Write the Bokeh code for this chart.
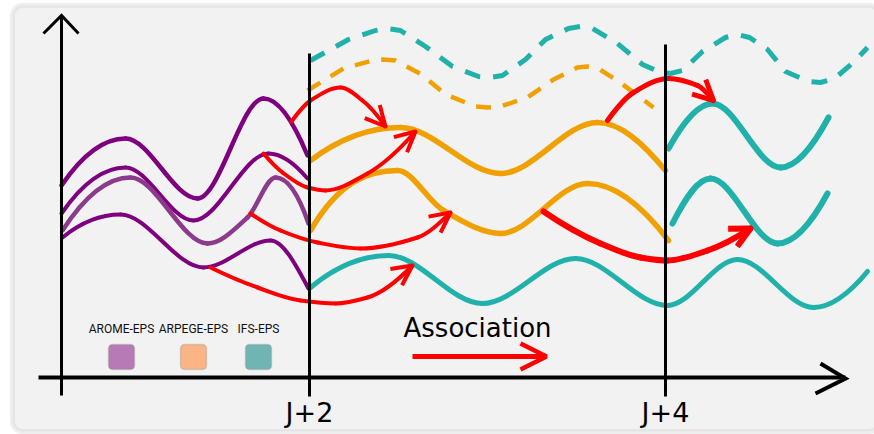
from bokeh.plotting import figure
from bokeh.models import Range1d, Arrow, OpenHead, BoxAnnotation, Label
from bokeh.embed import file_html
from bokeh.resources import INLINE

# ---------------- data (pixel-like units) ----------------
# AROME-EPS members (purple), from t0 to J+2 : start, peaks/troughs, end
arome1_x = [61, 125, 197, 263, 307]
arome1_y = [185, 138, 198, 98, 155]
arome2_x = [61, 125, 193, 268, 307]
arome2_y = [213, 167, 220, 153, 178]
arome3_x = [62, 130, 207, 247, 275, 308]
arome3_y = [230, 177, 243, 217, 177, 223]
arome4_x = [62, 120, 203, 270, 308]
arome4_y = [237, 214, 267, 240, 288]

# ARPEGE-EPS members (orange), J+2 to J+4
arpege1_x = [310, 400, 500, 597, 665]
arpege1_y = [160, 127, 173, 122, 170]
arpege2_x = [310, 397, 443, 500, 587, 668]
arpege2_y = [230, 170, 210, 233, 183, 240]
arpege_dash_x = [307, 343, 372, 383, 395, 421, 445, 475, 487, 500, 527, 553, 577, 587, 598, 621, 653]
arpege_dash_y = [90, 68, 60, 59, 60, 74, 94, 106, 107, 106, 97, 79, 67, 66, 68, 83, 107]

# IFS-EPS members (teal)
ifs1_x = [310, 388, 482, 575, 667, 737, 813, 867]
ifs1_y = [287, 255, 303, 258, 305, 259, 307, 271]
ifs2_x = [668, 712, 780, 828]
ifs2_y = [148, 103, 167, 117]
ifs3_x = [672, 710, 777, 827]
ifs3_y = [223, 178, 243, 193]
ifs_dash_x = [310, 348, 375, 387, 400, 425, 452, 478, 490, 502, 525, 545, 568, 580, 592,
              617, 642, 660, 670, 682, 702, 725, 737, 749, 767, 785, 808, 820, 834, 853, 867]
ifs_dash_y = [60, 39, 30, 28, 30, 46, 66, 76, 77, 75, 59, 39, 28, 26, 28,
              43, 64, 72, 73, 70, 51, 37, 34, 37, 49, 71, 81, 82, 78, 62, 47]

# association arrows (red)
assoc1_x = [291, 310, 340, 362, 385]
assoc1_y = [121, 100, 87, 100, 126]
assoc2_x = [263, 282, 307, 325, 367, 415]
assoc2_y = [153, 172, 187, 190, 173, 131]
assoc3_x = [250, 280, 317, 360, 417, 450]
assoc3_y = [213, 230, 242, 248, 237, 212]
assoc4_x = [210, 257, 300, 335, 367, 412]
assoc4_y = [267, 287, 300, 303, 297, 265]
assoc5_x = [543, 600, 640, 667, 707, 750]
assoc5_y = [211, 243, 257, 260, 250, 228]
assoc6_x = [607, 633, 668, 697, 713]
assoc6_y = [120, 92, 78, 85, 100]

legend_labels = ["AROME-EPS", "ARPEGE-EPS", "IFS-EPS"]
tick_labels = ["J+2", "J+4"]
tick_pos = [309, 665]

PURPLE = "#7e007e"
PURPLE_L = "#8c3a8c"
ORANGE = "#f0a000"
TEAL = "#20b2aa"
RED = "#ff0000"


def _end_slope(h0, h1, d0, d1):
    m = ((2 * h0 + h1) * d0 - h0 * d1) / (h0 + h1)
    if m * d0 <= 0:
        return 0.0
    if d0 * d1 < 0 and abs(m) > 3 * abs(d0):
        return 3 * d0
    return m


def smooth(xs, ys):
    """Cubic Hermite (PCHIP-style) control points for Bokeh's bezier glyph through the read points."""
    n = len(xs)
    h = [xs[i + 1] - xs[i] for i in range(n - 1)]
    d = [(ys[i + 1] - ys[i]) / h[i] for i in range(n - 1)]
    m = [0.0] * n
    if n > 2:
        m[0] = _end_slope(h[0], h[1], d[0], d[1])
        m[-1] = _end_slope(h[-1], h[-2], d[-1], d[-2])
    else:
        m[0] = m[-1] = d[0]
    for i in range(1, n - 1):
        if d[i - 1] * d[i] <= 0:
            m[i] = 0.0
        else:
            w1 = 2 * h[i] + h[i - 1]
            w2 = h[i] + 2 * h[i - 1]
            m[i] = (w1 + w2) / (w1 / d[i - 1] + w2 / d[i])
    out = {k: [] for k in ("x0", "y0", "x1", "y1", "cx0", "cy0", "cx1", "cy1")}
    for i in range(n - 1):
        out["x0"].append(xs[i]); out["y0"].append(ys[i])
        out["x1"].append(xs[i + 1]); out["y1"].append(ys[i + 1])
        out["cx0"].append(xs[i] + h[i] / 3.0)
        out["cy0"].append(ys[i] + m[i] * h[i] / 3.0)
        out["cx1"].append(xs[i + 1] - h[i] / 3.0)
        out["cy1"].append(ys[i + 1] - m[i + 1] * h[i] / 3.0)
    return out


p = figure(width=874, height=434, x_range=Range1d(0, 874), y_range=Range1d(434, 0),
           output_backend="svg", toolbar_location=None, min_border=0,
           x_axis_type=None, y_axis_type=None)
p.grid.visible = False
p.outline_line_color = None
p.background_fill_color = "white"
p.border_fill_color = "white"

# panel
p.add_layout(BoxAnnotation(left=12, right=879, top=5, bottom=431, fill_color="#f2f2f2", fill_alpha=1,
                           line_color="#c6c6c6", line_width=5, border_radius=10, level="underlay"))


def curve(xs, ys, color, width):
    p.bezier(**smooth(xs, ys), line_color=color, line_width=width, line_cap="round")


# dashed forecasts
p.line(ifs_dash_x, ifs_dash_y, line_color=TEAL, line_width=5, line_dash="16 13")
p.line(arpege_dash_x, arpege_dash_y, line_color=ORANGE, line_width=4.5, line_dash="15 12")

# members
curve(arome1_x, arome1_y, PURPLE, 4.5)
curve(arome2_x, arome2_y, PURPLE, 4)
curve(arome3_x, arome3_y, PURPLE_L, 4.5)
curve(arome4_x, arome4_y, PURPLE, 4)
curve(arpege1_x, arpege1_y, ORANGE, 5.5)
curve(arpege2_x, arpege2_y, ORANGE, 5.5)
curve(ifs1_x, ifs1_y, TEAL, 5)
curve(ifs2_x, ifs2_y, TEAL, 6)
curve(ifs3_x, ifs3_y, TEAL, 6)

# association arrows
for xs, ys, w in [(assoc1_x, assoc1_y, 4), (assoc2_x, assoc2_y, 4), (assoc3_x, assoc3_y, 4),
                  (assoc4_x, assoc4_y, 4), (assoc5_x, assoc5_y, 6), (assoc6_x, assoc6_y, 5)]:
    curve(xs, ys, RED, w)
    p.add_layout(Arrow(end=OpenHead(size=20, line_color=RED, line_width=w),
                       x_start=xs[-2], y_start=ys[-2], x_end=xs[-1], y_end=ys[-1], line_alpha=0))

# axes and time markers
p.multi_line(xs=[[61, 61], [38, 845], [43, 61, 78], [820, 845, 815]],
             ys=[[395, 17], [377, 377], [33, 15, 33], [363, 378, 393]],
             line_color="black", line_width=[3, 4, 3, 4], line_join="miter")
p.segment(x0=tick_pos, y0=[53, 44], x1=tick_pos, y1=[396, 396], line_color="black", line_width=3)
for xp, lab in zip(tick_pos, tick_labels):
    p.add_layout(Label(x=xp, y=412, text=lab, text_font="DejaVu Sans", text_font_size="27px",
                       text_align="center", text_baseline="middle", text_color="black"))

# legend
legend_cx = [121, 193, 258]
legend_fill = ["#b87ab6", "#fbb584", "#70b5b3"]
for cx, lab, col in zip(legend_cx, legend_labels, legend_fill):
    p.add_layout(Label(x=cx, y=328, text=lab, text_font="Roboto", text_font_size="12px",
                       text_align="center", text_baseline="middle", text_color="#111111"))
    p.add_layout(BoxAnnotation(left=cx - 13, right=cx + 13, top=344, bottom=369, fill_color=col,
                               fill_alpha=1, line_color="#8a8a8a", line_width=1.5, border_radius=4))

p.add_layout(Label(x=403, y=327, text="Association", text_font="DejaVu Sans", text_font_size="26px",
                   text_align="left", text_baseline="middle", text_color="black"))
p.add_layout(Arrow(end=OpenHead(size=26, line_color=RED, line_width=4.5),
                   x_start=412, y_start=356, x_end=546, y_end=356, line_color=RED, line_width=5))

open("out.html", "w").write(file_html(p, INLINE))
